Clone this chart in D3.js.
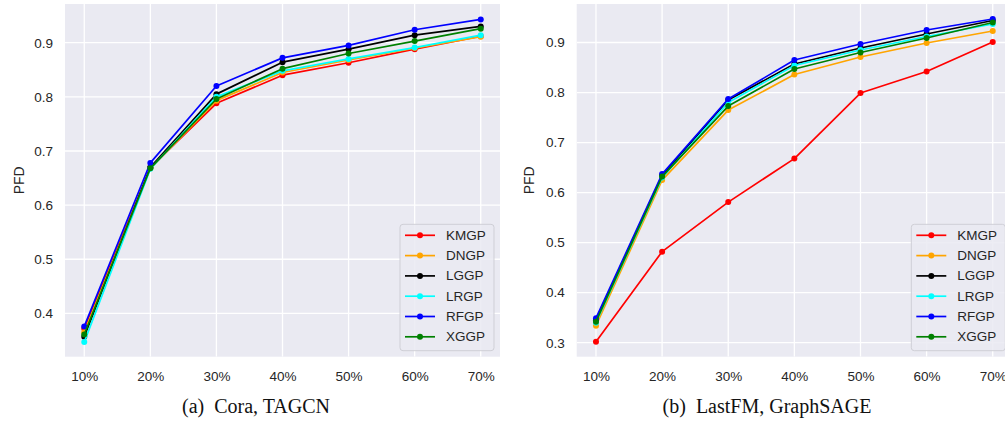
<!DOCTYPE html>
<html><head><meta charset="utf-8">
<script src="https://cdn.jsdelivr.net/npm/d3@7"></script>
<style>body{margin:0;background:#fff;}svg{display:block;}</style>
</head><body>
<svg id="c" width="1005" height="424"></svg>
<script>
const categories = ["10%","20%","30%","40%","50%","60%","70%"];
const seriesNames = ["KMGP","DNGP","LGGP","LRGP","RFGP","XGGP"];
const seriesColors = ["#ff0000","#ffa500","#000000","#00ffff","#0000ff","#008000"];
// Panel (a) Cora, TAGCN
const coraKMGP = [0.372,0.669,0.788,0.840,0.863,0.888,0.912];
const coraDNGP = [0.365,0.668,0.793,0.845,0.868,0.890,0.911];
const coraLGGP = [0.357,0.670,0.805,0.864,0.888,0.914,0.930];
const coraLRGP = [0.347,0.667,0.800,0.848,0.870,0.891,0.914];
const coraRFGP = [0.376,0.678,0.820,0.872,0.895,0.924,0.943];
const coraXGGP = [0.361,0.668,0.796,0.852,0.880,0.903,0.926];
// Panel (b) LastFM, GraphSAGE
const fmKMGP = [0.302,0.482,0.581,0.668,0.799,0.842,0.901];
const fmDNGP = [0.334,0.625,0.765,0.836,0.871,0.899,0.923];
const fmLGGP = [0.345,0.634,0.785,0.857,0.889,0.917,0.944];
const fmLRGP = [0.340,0.630,0.780,0.854,0.885,0.912,0.937];
const fmRFGP = [0.349,0.637,0.787,0.865,0.897,0.925,0.947];
const fmXGGP = [0.342,0.632,0.773,0.847,0.880,0.909,0.940];
const coraTicks = [0.4,0.5,0.6,0.7,0.8,0.9];
const fmTicks = [0.3,0.4,0.5,0.6,0.7,0.8,0.9];

const svg = d3.select("#c");
const panels = [
  {left:65, right:500, series:[coraKMGP,coraDNGP,coraLGGP,coraLRGP,coraRFGP,coraXGGP], domain:[0.32,0.9715], ticks:coraTicks, caption:"(a)\u2002Cora, TAGCN", ylabX:19, legX:400, capX:256},
  {left:576.7, right:1012, series:[fmKMGP,fmDNGP,fmLGGP,fmLRGP,fmRFGP,fmXGGP], domain:[0.272,0.977], ticks:fmTicks, caption:"(b)\u2002LastFM, GraphSAGE", ylabX:529, legX:911.3, capX:767}
];
const plotTop = 4, plotBottom = 356.7;
const txt = "#262626";
const font = "Liberation Sans, Arial, sans-serif";

panels.forEach((p,pi) => {
  const g = svg.append("g");
  const x = d3.scalePoint().domain(categories).range([p.left, p.right]).padding(0.2915);
  const y = d3.scaleLinear().domain(p.domain).range([plotBottom, plotTop]);
  const clipId = "clip"+pi;
  g.append("clipPath").attr("id",clipId).append("rect")
    .attr("x",p.left).attr("y",plotTop).attr("width",p.right-p.left).attr("height",plotBottom-plotTop);
  g.append("rect").attr("x",p.left).attr("y",plotTop).attr("width",p.right-p.left).attr("height",plotBottom-plotTop).attr("fill","#eaeaf2");
  const grid = g.append("g").attr("clip-path",`url(#${clipId})`);
  grid.selectAll("line.gx").data(categories).enter().append("line")
    .attr("x1",d=>x(d)).attr("x2",d=>x(d)).attr("y1",plotTop).attr("y2",plotBottom)
    .attr("stroke","#fff").attr("stroke-width",1.3);
  grid.selectAll("line.gy").data(p.ticks).enter().append("line")
    .attr("x1",p.left).attr("x2",p.right).attr("y1",d=>y(d)).attr("y2",d=>y(d))
    .attr("stroke","#fff").attr("stroke-width",1.3);
  const xa = g.append("g").attr("transform",`translate(0,${plotBottom})`)
    .call(d3.axisBottom(x).tickSize(0).tickPadding(15));
  const ya = g.append("g").attr("transform",`translate(${p.left},0)`)
    .call(d3.axisLeft(y).tickValues(p.ticks).tickFormat(d3.format(".1f")).tickSize(0).tickPadding(12));
  [xa,ya].forEach(a=>{a.select(".domain").remove();
    a.selectAll("text").attr("fill",txt).attr("font-family",font).attr("font-size",13.5);});
  g.append("text").attr("transform",`translate(${p.ylabX},${(plotTop+plotBottom)/2}) rotate(-90)`)
    .attr("text-anchor","middle").attr("dominant-baseline","central")
    .attr("fill",txt).attr("font-family",font).attr("font-size",14).text("PFD");
  const line = d3.line().x((d,i)=>x(categories[i])).y(d=>y(d));
  const lines = g.append("g");
  p.series.forEach((s,si)=>{
    lines.append("path").attr("d",line(s)).attr("fill","none")
      .attr("stroke",seriesColors[si]).attr("stroke-width",1.7).attr("stroke-linejoin","round");
    lines.selectAll(null).data(s).enter().append("circle")
      .attr("cx",(d,i)=>x(categories[i])).attr("cy",d=>y(d)).attr("r",3)
      .attr("fill",seriesColors[si]);
  });
  const lg = g.append("g").attr("transform",`translate(${p.legX},224.3)`);
  lg.append("rect").attr("x",0).attr("y",0).attr("width",94).attr("height",126.4).attr("rx",3)
    .attr("fill","#eaeaf2").attr("fill-opacity",0.85).attr("stroke","#cfcfd6").attr("stroke-width",1);
  seriesNames.forEach((n,i)=>{
    const yy = 11 + i*20.3;
    lg.append("line").attr("x1",5).attr("x2",35).attr("y1",yy).attr("y2",yy)
      .attr("stroke",seriesColors[i]).attr("stroke-width",1.7);
    lg.append("circle").attr("cx",20).attr("cy",yy).attr("r",3).attr("fill",seriesColors[i]);
    lg.append("text").attr("x",46).attr("y",yy).attr("dominant-baseline","central")
      .attr("fill",txt).attr("font-family",font).attr("font-size",13.5).text(n);
  });
  svg.append("text").attr("x",p.capX).attr("y",413).attr("text-anchor","middle")
    .attr("fill","#111").attr("font-family","Liberation Serif, Times New Roman, serif").attr("font-size",20)
    .text(p.caption);
});
</script>
</body></html>
